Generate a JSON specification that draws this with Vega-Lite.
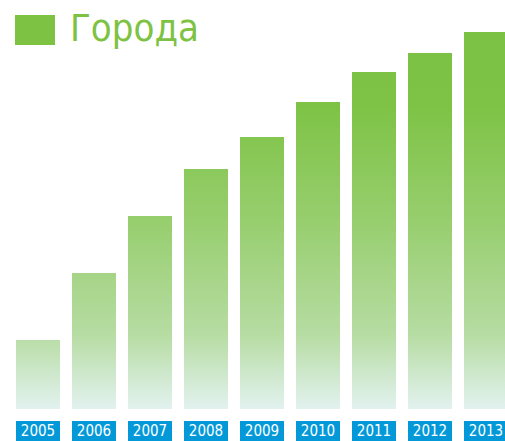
{
  "$schema": "https://vega.github.io/schema/vega-lite/v6.json",
  "width": 505,
  "height": 441,
  "padding": 0,
  "autosize": {"type": "none"},
  "background": "white",
  "config": {"view": {"stroke": null}},
  "data": {"values": [
    {"year": "2005", "value": 69, "series": "Города"},
    {"year": "2006", "value": 136, "series": "Города"},
    {"year": "2007", "value": 193, "series": "Города"},
    {"year": "2008", "value": 240, "series": "Города"},
    {"year": "2009", "value": 272, "series": "Города"},
    {"year": "2010", "value": 307, "series": "Города"},
    {"year": "2011", "value": 337, "series": "Города"},
    {"year": "2012", "value": 356, "series": "Города"},
    {"year": "2013", "value": 377, "series": "Города"}
  ]},
  "layer": [
    {
      "mark": {"type": "bar"},
      "encoding": {
        "x": {"field": "year", "type": "nominal", "scale": {"range": [10, 514], "paddingInner": 0.2143, "paddingOuter": 0.107}, "axis": null},
        "y": {"field": "value", "type": "quantitative", "scale": {"domain": [-32, 409], "nice": false, "zero": false}, "axis": null},
        "y2": {"datum": 0},
        "fill": {
          "condition": [
            {"test": "datum.year==='2005'", "value": {"gradient": "linear", "x1": 0, "y1": -4.464, "x2": 0, "y2": 1, "stops": [{"offset": 0, "color": "#7bc143"}, {"offset": 0.2, "color": "#7ec346"}, {"offset": 0.5, "color": "#97ce6e"}, {"offset": 0.8, "color": "#b6dca2"}, {"offset": 1, "color": "#e2f2ef"}]}},
            {"test": "datum.year==='2006'", "value": {"gradient": "linear", "x1": 0, "y1": -1.772, "x2": 0, "y2": 1, "stops": [{"offset": 0, "color": "#7bc143"}, {"offset": 0.2, "color": "#7ec346"}, {"offset": 0.5, "color": "#97ce6e"}, {"offset": 0.8, "color": "#b6dca2"}, {"offset": 1, "color": "#e2f2ef"}]}},
            {"test": "datum.year==='2007'", "value": {"gradient": "linear", "x1": 0, "y1": -0.953, "x2": 0, "y2": 1, "stops": [{"offset": 0, "color": "#7bc143"}, {"offset": 0.2, "color": "#7ec346"}, {"offset": 0.5, "color": "#97ce6e"}, {"offset": 0.8, "color": "#b6dca2"}, {"offset": 1, "color": "#e2f2ef"}]}},
            {"test": "datum.year==='2008'", "value": {"gradient": "linear", "x1": 0, "y1": -0.571, "x2": 0, "y2": 1, "stops": [{"offset": 0, "color": "#7bc143"}, {"offset": 0.2, "color": "#7ec346"}, {"offset": 0.5, "color": "#97ce6e"}, {"offset": 0.8, "color": "#b6dca2"}, {"offset": 1, "color": "#e2f2ef"}]}},
            {"test": "datum.year==='2009'", "value": {"gradient": "linear", "x1": 0, "y1": -0.386, "x2": 0, "y2": 1, "stops": [{"offset": 0, "color": "#7bc143"}, {"offset": 0.2, "color": "#7ec346"}, {"offset": 0.5, "color": "#97ce6e"}, {"offset": 0.8, "color": "#b6dca2"}, {"offset": 1, "color": "#e2f2ef"}]}},
            {"test": "datum.year==='2010'", "value": {"gradient": "linear", "x1": 0, "y1": -0.228, "x2": 0, "y2": 1, "stops": [{"offset": 0, "color": "#7bc143"}, {"offset": 0.2, "color": "#7ec346"}, {"offset": 0.5, "color": "#97ce6e"}, {"offset": 0.8, "color": "#b6dca2"}, {"offset": 1, "color": "#e2f2ef"}]}},
            {"test": "datum.year==='2011'", "value": {"gradient": "linear", "x1": 0, "y1": -0.119, "x2": 0, "y2": 1, "stops": [{"offset": 0, "color": "#7bc143"}, {"offset": 0.2, "color": "#7ec346"}, {"offset": 0.5, "color": "#97ce6e"}, {"offset": 0.8, "color": "#b6dca2"}, {"offset": 1, "color": "#e2f2ef"}]}},
            {"test": "datum.year==='2012'", "value": {"gradient": "linear", "x1": 0, "y1": -0.059, "x2": 0, "y2": 1, "stops": [{"offset": 0, "color": "#7bc143"}, {"offset": 0.2, "color": "#7ec346"}, {"offset": 0.5, "color": "#97ce6e"}, {"offset": 0.8, "color": "#b6dca2"}, {"offset": 1, "color": "#e2f2ef"}]}},
            {"test": "datum.year==='2013'", "value": {"gradient": "linear", "x1": 0, "y1": 0, "x2": 0, "y2": 1, "stops": [{"offset": 0, "color": "#7bc143"}, {"offset": 0.2, "color": "#7ec346"}, {"offset": 0.5, "color": "#97ce6e"}, {"offset": 0.8, "color": "#b6dca2"}, {"offset": 1, "color": "#e2f2ef"}]}}
          ],
          "field": "series",
          "type": "nominal",
          "scale": {"range": ["#7dc242"]},
          "legend": {
            "title": null,
            "orient": "none",
            "legendX": 15,
            "legendY": 10,
            "padding": 0,
            "symbolType": "M-1,-0.75H1V0.75H-1Z",
            "symbolSize": 1600,
            "symbolStrokeWidth": 0,
            "symbolOpacity": 1,
            "labelFont": "DejaVu Sans Condensed, DejaVu Sans, sans-serif",
            "labelFontSize": 38,
            "labelFontWeight": 300,
            "labelColor": "#7dc242",
            "labelOffset": 15,
            "labelLimit": 300
          }
        }
      }
    },
    {
      "mark": {"type": "bar", "fill": "#0399d9"},
      "encoding": {
        "x": {"field": "year", "type": "nominal"},
        "y": {"datum": -32},
        "y2": {"datum": -12}
      }
    },
    {
      "mark": {"type": "text", "color": "white", "font": "DejaVu Sans Condensed, DejaVu Sans, sans-serif", "fontSize": 15, "baseline": "middle"},
      "encoding": {
        "x": {"field": "year", "type": "nominal"},
        "y": {"datum": -22},
        "text": {"field": "year"}
      }
    }
  ]
}
